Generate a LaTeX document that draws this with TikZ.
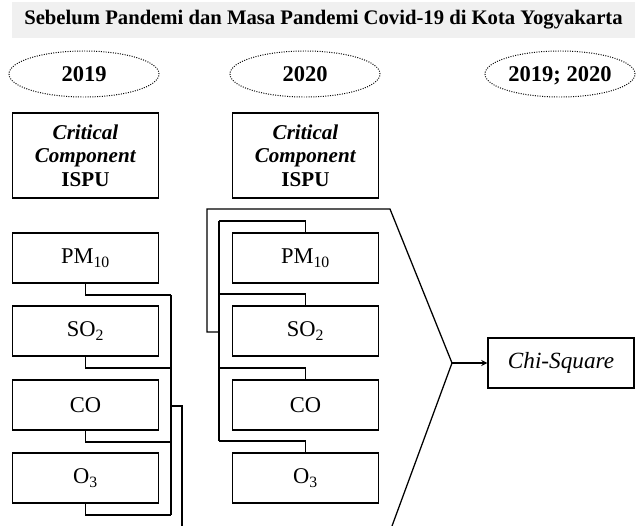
\documentclass[tikz,border=0pt]{standalone}
\usepackage{fontspec}
\setmainfont{Liberation Serif}
\usetikzlibrary{shapes.geometric, arrows}
\tikzstyle{band} = [rectangle, fill=gray!12, minimum width=15.575cm, minimum height=0.9cm, font=\fontsize{14.7}{17}\selectfont\bfseries]
\tikzstyle{yr} = [ellipse, draw, densely dotted, line width=0.7pt, inner sep=0pt, text depth=0pt, minimum width=3.75cm, minimum height=1.15cm, font=\fontsize{16}{19}\selectfont\bfseries]
\tikzstyle{crit} = [rectangle, draw, line width=1pt, minimum width=3.65cm, minimum height=2.125cm, align=center, font=\fontsize{15}{16.7}\selectfont\bfseries]
\tikzstyle{gas} = [rectangle, draw, line width=1pt, minimum width=3.65cm, minimum height=1.25cm, font=\fontsize{16}{19}\selectfont]
\tikzstyle{link} = [line width=0.9pt]
\tikzstyle{arrow} = [line width=0.9pt,->,>=stealth]

\begin{document}
\begin{tikzpicture}[x=0.025cm,y=-0.025cm]
\useasboundingbox (0,0) rectangle (639,526);
\node[band] (title) at (323.5,20) {Sebelum Pandemi dan Masa Pandemi Covid-19 di Kota Yogyakarta};
\node[yr] (y19) at (84,74) {2019};
\node[yr] (y20) at (305,74) {2020};
\node[yr] (y1920) at (560,74) {2019; 2020};
\node[crit] (crit19) at (85.5,155.5) {\textit{Critical}\\\textit{Component}\\ISPU};
\node[crit] (crit20) at (305.5,155.5) {\textit{Critical}\\\textit{Component}\\ISPU};

\foreach \n/\gas/\y in {1/PM\textsubscript{10}/258,2/SO\textsubscript{2}/331,3/CO/405,4/O\textsubscript{3}/478}{
	\node[gas] (g19-\n) at (85.5,\y) {\gas};
	\node[gas] (g20-\n) at (305.5,\y) {\gas};
	\coordinate (j19-\n) at (171,\y+37);
	\coordinate (j20-\n) at (219,\y-37);
	\draw[link] (g19-\n.south) |- (j19-\n);
	\draw[link] (g20-\n.north) |- (j20-\n);
	}
\draw[link] (j19-1)--(j19-4);
\draw[link] (j20-1)--(j20-4);

\coordinate (tap19) at (171,406);
\coordinate (drop19) at (182,526);
\coordinate (tap20) at (219,332);
\coordinate (back20) at (207,209);
\coordinate (top) at (390,209);
\coordinate (apex) at (452,363);
\coordinate (low) at (392,526);
\node[gas, font=\fontsize{16.5}{19}\selectfont\itshape] (chi) at (561,363) {Chi-Square};

\draw[link] (tap19) -| (drop19);
\draw[link] (tap20) -| (back20) -- (top) -- (apex) -- (low);
\draw[arrow] (apex)--(chi);
\end{tikzpicture}
\end{document}
